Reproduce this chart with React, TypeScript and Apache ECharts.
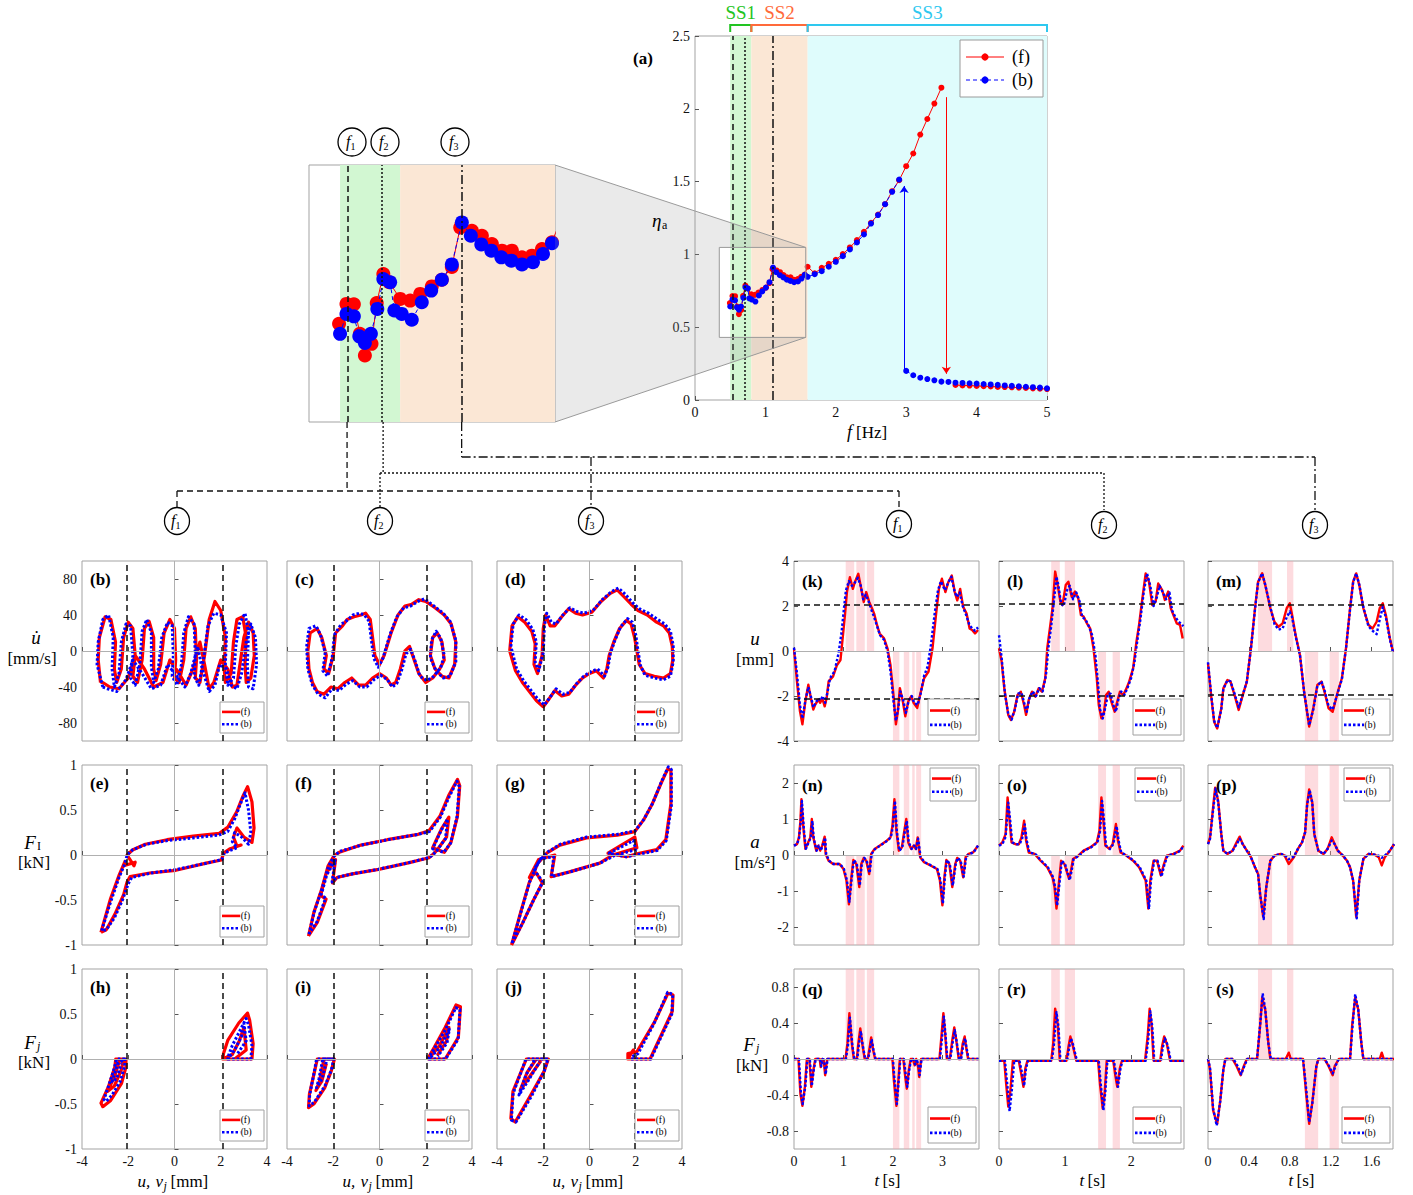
import React, { useEffect, useRef } from "react";
import * as echarts from "echarts";

const FONT = "Liberation Serif";
const RED = "#ff0000";
const BLUE = "#0000ff";

// ================= (a) amplitude ratio vs frequency =================
const etaFwdRise = [[0.495,0.666],[0.532,0.714],[0.569,0.713],[0.599,0.642],[0.624,0.59],[0.657,0.618],[0.683,0.716],[0.716,0.786],[0.746,0.766],[0.8,0.726],[0.85,0.722],[0.9,0.738],[0.958,0.756],[1.008,0.772],[1.058,0.803],[1.1,0.898],[1.158,0.89],[1.208,0.878],[1.258,0.858],[1.308,0.842],[1.358,0.842],[1.408,0.826],[1.458,0.83],[1.508,0.846],[1.558,0.862],[1.6,0.915],[1.7,0.87],[1.8,0.908],[1.9,0.935],[2.0,0.963],[2.1,1.002],[2.2,1.048],[2.3,1.098],[2.4,1.155],[2.5,1.217],[2.6,1.274],[2.7,1.345],[2.8,1.434],[2.9,1.51],[3.0,1.606],[3.1,1.693],[3.2,1.823],[3.3,1.93],[3.4,2.036],[3.5,2.145]];
const etaFwdLow = [[3.7,0.103],[3.8,0.1],[3.9,0.099],[4.0,0.097],[4.1,0.095],[4.2,0.093],[4.3,0.09],[4.4,0.089],[4.5,0.087],[4.6,0.085],[4.7,0.083],[4.8,0.08],[4.9,0.078],[5.0,0.075]];
const etaBwdHigh = [[0.5,0.642],[0.532,0.69],[0.569,0.684],[0.596,0.636],[0.624,0.62],[0.654,0.642],[0.686,0.702],[0.716,0.774],[0.75,0.766],[0.771,0.698],[0.808,0.69],[0.858,0.676],[0.908,0.718],[0.955,0.746],[1.008,0.772],[1.058,0.809],[1.108,0.91],[1.153,0.878],[1.205,0.857],[1.255,0.842],[1.305,0.826],[1.355,0.818],[1.408,0.809],[1.463,0.814],[1.513,0.834],[1.558,0.86],[1.6,0.846],[1.7,0.864],[1.8,0.885],[1.9,0.915],[2.0,0.949],[2.1,0.988],[2.2,1.034],[2.3,1.082],[2.4,1.137],[2.5,1.212],[2.6,1.27],[2.7,1.345],[2.8,1.43],[2.9,1.514]];
const etaBwdLow = [[3.0,0.2],[3.1,0.17],[3.2,0.153],[3.3,0.144],[3.4,0.135],[3.5,0.126],[3.6,0.124],[3.7,0.119],[3.8,0.117],[3.9,0.115],[4.0,0.113],[4.1,0.11],[4.2,0.107],[4.3,0.104],[4.4,0.1],[4.5,0.097],[4.6,0.094],[4.7,0.091],[4.8,0.088],[4.9,0.085],[5.0,0.08]];
const stageBands = [[0.5, 0.8], [0.8, 1.6], [1.6, 5]];
const stageNames = ["SS1", "SS2", "SS3"];
const stageFill = ["#d2f7d2", "#fbe7d5", "#dffcfc"];
const stageInk = ["#22c422", "#ff6a3a", "#2ec8ef"];
const selFreqs = [0.535, 0.715, 1.107];
const jumpUp = [[2.97, 0.2], [2.97, 1.47]];
const jumpDown = [[3.57, 2.08], [3.57, 0.18]];
const aTicksX = [0, 1, 2, 3, 4, 5];
const aTicksY = [0, 0.5, 1, 1.5, 2, 2.5];
const insetX = [0.345, 1.573];
const insetY = [0.43, 1.048];

// ================= phase plots (b)-(j) =================
const phB_f = [[-3.2,-35],[-3.3,-10],[-3.25,15],[-3.0,38],[-2.75,35],[-2.55,10],[-2.6,-20],[-2.5,-35],[-2.3,-20],[-2.2,15],[-2.0,32],[-1.8,25],[-1.7,-5],[-1.8,-28],[-1.6,-35],[-1.4,-10],[-1.3,25],[-1.1,33],[-0.9,15],[-0.9,-20],[-0.8,-33],[-0.6,-15],[-0.45,20],[-0.2,35],[0.0,25],[0.05,-10],[0.0,-30],[0.2,-35],[0.4,-10],[0.5,25],[0.7,38],[0.9,25],[0.95,-10],[0.9,-30],[1.1,-35],[1.3,-5],[1.5,35],[1.75,55],[2.0,45],[2.2,15],[2.15,-20],[2.2,-35],[2.45,-25],[2.55,10],[2.7,35],[2.95,38],[3.1,15],[3.05,-15],[3.1,-35],[3.3,-30],[3.45,-5],[3.4,20],[3.2,32],[3.0,15],[2.8,-20],[2.7,-38],[2.5,-40],[2.3,-20],[2.0,-10],[1.7,-35],[1.5,-42],[1.3,-15],[1.1,10],[0.8,-20],[0.5,-38],[0.2,-25],[-0.2,-10],[-0.5,-35],[-0.9,-40],[-1.3,-20],[-1.7,-5],[-2.0,-30],[-2.4,-42],[-2.8,-40],[-3.1,-35],[-3.2,-35]];
const phB_b = [[-3.1,-40],[-3.35,-15],[-3.3,10],[-3.1,35],[-2.85,40],[-2.65,15],[-2.7,-20],[-2.6,-40],[-2.4,-25],[-2.3,10],[-2.1,30],[-1.9,28],[-1.8,-5],[-1.9,-30],[-1.7,-38],[-1.5,-15],[-1.4,22],[-1.2,35],[-1.0,20],[-1.0,-18],[-0.9,-35],[-0.7,-20],[-0.55,15],[-0.3,32],[-0.1,28],[-0.05,-5],[-0.1,-28],[0.1,-38],[0.3,-15],[0.4,20],[0.6,38],[0.85,30],[0.9,-5],[0.85,-28],[1.05,-38],[1.25,-10],[1.45,28],[1.7,42],[2.0,40],[2.25,20],[2.2,-15],[2.3,-38],[2.55,-30],[2.65,5],[2.8,30],[3.05,42],[3.2,20],[3.15,-15],[3.2,-40],[3.4,-42],[3.55,-15],[3.5,15],[3.3,30],[3.1,10],[2.9,-25],[2.7,-42],[2.45,-38],[2.25,-20],[1.95,-15],[1.75,-38],[1.5,-45],[1.2,-20],[1.0,5],[0.7,-25],[0.45,-40],[0.1,-28],[-0.3,-15],[-0.6,-38],[-1.0,-42],[-1.4,-25],[-1.8,-10],[-2.1,-32],[-2.5,-45],[-2.9,-42],[-3.1,-40]];
const phC_f = [[-3.1,0],[-3.0,20],[-2.7,25],[-2.5,15],[-2.3,-5],[-2.4,-20],[-2.2,-25],[-2.0,-5],[-1.9,20],[-1.6,28],[-1.4,35],[-1.1,38],[-0.8,40],[-0.6,42],[-0.4,35],[-0.3,15],[-0.2,-5],[0.0,-15],[0.2,-5],[0.5,20],[0.8,40],[1.1,50],[1.4,52],[1.7,57],[2.0,55],[2.4,48],[2.8,40],[3.1,30],[3.3,10],[3.25,-15],[3.0,-30],[2.7,-28],[2.4,-20],[2.2,-5],[2.3,15],[2.5,20],[2.7,10],[2.8,-10],[2.6,-20],[2.3,-30],[2.0,-35],[1.7,-25],[1.5,-10],[1.3,5],[1.1,0],[0.9,-20],[0.7,-35],[0.5,-38],[0.3,-30],[0.0,-25],[-0.3,-30],[-0.6,-38],[-0.9,-38],[-1.2,-30],[-1.5,-35],[-1.8,-42],[-2.1,-40],[-2.4,-48],[-2.7,-45],[-2.9,-35],[-3.05,-20],[-3.1,0]];
const phC_b = [[-3.15,5],[-3.05,25],[-2.75,28],[-2.55,18],[-2.35,-2],[-2.45,-22],[-2.25,-28],[-2.05,-8],[-1.95,18],[-1.65,30],[-1.45,33],[-1.15,40],[-0.85,42],[-0.65,40],[-0.45,33],[-0.35,12],[-0.25,-8],[-0.05,-18],[0.15,-8],[0.45,18],[0.75,38],[1.05,48],[1.35,50],[1.65,55],[1.95,58],[2.35,50],[2.75,42],[3.05,33],[3.3,12],[3.3,-12],[3.05,-28],[2.75,-30],[2.45,-22],[2.2,-8],[2.25,12],[2.45,22],[2.65,14],[2.8,-5],[2.65,-18],[2.35,-28],[2.05,-33],[1.75,-28],[1.55,-12],[1.35,2],[1.15,-3],[0.95,-22],[0.75,-36],[0.55,-40],[0.35,-32],[0.05,-27],[-0.25,-32],[-0.55,-40],[-0.85,-40],[-1.15,-33],[-1.45,-37],[-1.75,-44],[-2.05,-42],[-2.35,-52],[-2.65,-48],[-2.9,-38],[-3.1,-20],[-3.15,5]];
const phD_f = [[-3.45,0],[-3.35,28],[-3.1,38],[-2.8,32],[-2.5,22],[-2.35,8],[-2.4,-15],[-2.25,-25],[-2.05,-5],[-2.0,25],[-1.9,40],[-1.7,28],[-1.5,28],[-1.2,38],[-0.9,47],[-0.6,42],[-0.3,40],[0.1,43],[0.5,55],[0.9,64],[1.2,68],[1.5,60],[1.8,52],[2.1,45],[2.5,40],[2.9,32],[3.2,28],[3.45,20],[3.58,5],[3.6,-10],[3.5,-25],[3.2,-30],[2.8,-28],[2.4,-25],[2.15,-15],[2.05,0],[1.95,15],[1.8,30],[1.6,34],[1.3,25],[1.05,10],[0.85,-5],[0.75,-20],[0.6,-30],[0.3,-22],[0.0,-25],[-0.3,-30],[-0.6,-38],[-0.9,-48],[-1.2,-50],[-1.5,-44],[-1.8,-55],[-2.0,-62],[-2.3,-55],[-2.6,-45],[-2.9,-35],[-3.2,-22],[-3.45,0]];
const phD_b = [[-3.4,5],[-3.3,30],[-3.05,40],[-2.75,35],[-2.45,24],[-2.3,10],[-2.35,-12],[-2.2,-22],[-2.0,-2],[-1.95,28],[-1.85,42],[-1.65,32],[-1.45,30],[-1.15,40],[-0.85,48],[-0.55,44],[-0.25,42],[0.15,45],[0.55,57],[0.95,66],[1.25,70],[1.55,63],[1.85,54],[2.15,47],[2.55,42],[2.95,35],[3.25,30],[3.5,22],[3.62,6],[3.62,-12],[3.5,-28],[3.2,-32],[2.8,-30],[2.4,-27],[2.2,-16],[2.1,0],[2.0,18],[1.85,32],[1.65,36],[1.35,27],[1.1,12],[0.9,-3],[0.8,-18],[0.65,-28],[0.35,-20],[0.05,-23],[-0.25,-28],[-0.55,-36],[-0.85,-46],[-1.15,-48],[-1.45,-42],[-1.75,-53],[-1.95,-60],[-2.25,-53],[-2.55,-43],[-2.85,-33],[-3.15,-20],[-3.4,5]];
const phE_f = [[-3.18,-0.86],[-2.76,-0.48],[-2.39,-0.22],[-2.14,-0.07],[-2.2,-0.12],[-1.7,-0.08],[-1.75,-0.12],[-2.05,0.0],[-1.82,0.055],[-1.26,0.12],[-0.32,0.17],[0.81,0.21],[1.94,0.24],[2.31,0.31],[2.69,0.48],[2.97,0.66],[3.16,0.76],[3.35,0.59],[3.44,0.3],[3.35,0.14],[3.0,0.2],[2.7,0.3],[2.55,0.2],[2.7,0.1],[2.88,0.11],[2.41,0.07],[2.12,0.02],[2.03,-0.055],[1.37,-0.09],[0.06,-0.17],[-1.07,-0.2],[-1.92,-0.24],[-2.05,-0.3],[-2.2,-0.44],[-2.58,-0.66],[-2.95,-0.83],[-3.18,-0.86]];
const phE_b = [[-3.15,-0.84],[-2.8,-0.55],[-2.4,-0.25],[-2.15,-0.1],[-2.05,0.0],[-1.8,0.06],[-1.2,0.12],[-0.3,0.16],[0.8,0.19],[1.9,0.22],[2.3,0.26],[2.6,0.4],[2.9,0.6],[3.05,0.69],[3.2,0.5],[3.3,0.25],[3.2,0.12],[2.9,0.2],[2.6,0.25],[2.5,0.15],[2.7,0.08],[2.4,0.05],[2.15,0.02],[2.05,-0.05],[1.4,-0.09],[0.1,-0.16],[-1.0,-0.2],[-1.85,-0.25],[-2.0,-0.32],[-2.25,-0.5],[-2.6,-0.7],[-2.95,-0.83],[-3.15,-0.84]];
const phF_f = [[-3.07,-0.9],[-2.84,-0.64],[-2.5,-0.38],[-2.22,-0.12],[-1.97,-0.01],[-1.74,0.03],[-0.8,0.11],[0.34,0.17],[1.67,0.23],[2.14,0.27],[2.61,0.43],[2.99,0.66],[3.37,0.84],[3.47,0.77],[3.37,0.43],[3.09,0.14],[2.8,0.03],[2.3,0.08],[2.7,0.3],[3.0,0.42],[2.9,0.2],[2.5,0.06],[2.33,0.01],[2.14,-0.03],[1.29,-0.085],[-0.04,-0.16],[-1.17,-0.21],[-1.84,-0.25],[-2.03,-0.31],[-1.9,-0.05],[-2.3,-0.2],[-2.55,-0.45],[-2.31,-0.49],[-2.69,-0.75],[-3.07,-0.9]];
const phF_b = [[-3.05,-0.88],[-2.82,-0.63],[-2.48,-0.37],[-2.2,-0.12],[-1.95,-0.01],[-1.72,0.04],[-0.78,0.11],[0.36,0.17],[1.69,0.23],[2.16,0.26],[2.63,0.42],[3.0,0.64],[3.35,0.82],[3.45,0.76],[3.35,0.42],[3.07,0.13],[2.78,0.03],[2.3,0.07],[2.68,0.28],[2.95,0.4],[2.85,0.18],[2.48,0.05],[2.3,0.0],[2.12,-0.03],[1.27,-0.085],[-0.06,-0.16],[-1.19,-0.21],[-1.86,-0.25],[-2.05,-0.3],[-1.92,-0.06],[-2.28,-0.22],[-2.52,-0.44],[-2.33,-0.48],[-2.7,-0.74],[-3.05,-0.88]];
const phG_f = [[-3.37,-1.0],[-2.99,-0.65],[-2.61,-0.31],[-2.23,-0.09],[-1.85,0.02],[-1.28,0.11],[-0.13,0.19],[1.2,0.22],[1.96,0.26],[2.34,0.39],[2.72,0.57],[3.1,0.8],[3.39,0.96],[3.52,0.94],[3.52,0.57],[3.3,0.17],[2.91,0.06],[2.15,0.02],[1.58,-0.02],[0.8,0.02],[1.96,0.2],[2.05,0.08],[1.0,0.0],[0.44,-0.09],[-0.9,-0.19],[-1.66,-0.24],[-1.5,0.0],[-2.2,-0.05],[-2.6,-0.25],[-2.3,-0.2],[-2.04,-0.31],[-2.42,-0.5],[-2.9,-0.76],[-3.37,-1.0]];
const phG_b = [[-3.35,-0.98],[-2.97,-0.64],[-2.59,-0.3],[-2.21,-0.08],[-1.83,0.03],[-1.26,0.12],[-0.11,0.2],[1.22,0.23],[1.98,0.27],[2.36,0.4],[2.74,0.58],[3.12,0.82],[3.41,0.98],[3.54,0.95],[3.54,0.55],[3.32,0.16],[2.93,0.05],[2.17,0.01],[1.6,-0.02],[0.85,0.02],[1.9,0.16],[2.0,0.06],[1.05,-0.01],[0.46,-0.09],[-0.88,-0.19],[-1.64,-0.24],[-1.55,-0.02],[-2.1,-0.04],[-2.4,-0.16],[-2.02,-0.3],[-2.4,-0.49],[-2.88,-0.75],[-3.35,-0.98]];
const phH_fL = [[-2.1,0],[-2.54,0],[-2.58,-0.09],[-2.86,-0.31],[-3.18,-0.49],[-3.1,-0.53],[-2.76,-0.46],[-2.29,-0.27],[-2.1,-0.09],[-2.1,0],[-2.35,0],[-2.6,-0.2],[-2.9,-0.36],[-2.6,-0.3],[-2.3,-0.12],[-2.2,0]];
const phH_fR = [[2.09,0],[3.35,0],[3.4,0.17],[3.25,0.43],[3.16,0.51],[2.78,0.4],[2.31,0.21],[2.12,0.06],[2.09,0],[2.5,0.05],[2.8,0.2],[3.0,0.35],[3.1,0.1],[2.6,0.0]];
const phH_bL = [[-2.15,0],[-2.5,0],[-2.6,-0.1],[-2.85,-0.3],[-3.05,-0.45],[-2.95,-0.47],[-2.7,-0.4],[-2.35,-0.25],[-2.15,-0.08],[-2.15,0],[-2.45,-0.05],[-2.7,-0.25],[-2.5,-0.22],[-2.3,-0.05]];
const phH_bR = [[2.3,0],[3.3,0],[3.35,0.15],[3.2,0.38],[3.1,0.45],[2.8,0.3],[2.5,0.15],[2.35,0.05],[2.3,0],[2.6,0.1],[2.9,0.25],[3.0,0.4],[3.1,0.2],[2.7,0.05]];
const phI_fL = [[-1.95,0],[-2.69,0],[-2.8,-0.13],[-3.03,-0.39],[-3.07,-0.54],[-2.84,-0.5],[-2.37,-0.32],[-2.08,-0.13],[-1.95,0],[-2.4,0],[-2.6,-0.25],[-2.75,-0.35],[-2.5,-0.25],[-2.3,-0.05]];
const phI_fR = [[2.12,0],[2.84,0],[3.41,0.24],[3.5,0.58],[3.31,0.6],[2.84,0.35],[2.37,0.13],[2.12,0.02],[2.12,0],[2.6,0.15],[3.0,0.35],[2.9,0.2],[2.5,0.04]];
const phI_bL = [[-1.98,0],[-2.72,0],[-2.82,-0.14],[-3.02,-0.4],[-3.04,-0.52],[-2.82,-0.48],[-2.36,-0.3],[-2.08,-0.12],[-1.98,0],[-2.45,0],[-2.62,-0.22],[-2.72,-0.32],[-2.48,-0.22],[-2.3,-0.03]];
const phI_bR = [[2.14,0],[2.86,0],[3.4,0.22],[3.48,0.55],[3.3,0.57],[2.86,0.33],[2.38,0.12],[2.14,0.02],[2.14,0],[2.62,0.13],[3.02,0.33],[2.92,0.18],[2.52,0.03]];
const phJ_fL = [[-1.78,0],[-2.73,0],[-3.31,-0.36],[-3.4,-0.66],[-3.21,-0.7],[-2.54,-0.4],[-1.97,-0.14],[-1.78,0],[-2.3,0],[-2.7,-0.15],[-3.0,-0.35],[-2.6,-0.2],[-2.1,-0.02]];
const phJ_fR = [[1.66,0],[2.62,0],[3.58,0.53],[3.61,0.71],[3.39,0.73],[2.83,0.42],[2.05,0.08],[1.66,0.06],[1.66,0],[1.9,0.1],[1.7,0.03]];
const phJ_bL = [[-1.8,0],[-2.75,0],[-3.3,-0.38],[-3.38,-0.68],[-3.18,-0.7],[-2.5,-0.41],[-1.95,-0.13],[-1.8,0],[-2.35,0],[-2.75,-0.18],[-3.05,-0.4],[-2.65,-0.24],[-2.15,-0.03]];
const phJ_bR = [[1.8,0],[2.65,0],[3.56,0.5],[3.6,0.72],[3.38,0.74],[2.8,0.4],[2.1,0.06],[1.8,0.02]];

// ================= time histories (k)-(s) =================
const uF1_f = [[0,0.1],[0.06,-1.35],[0.12,-2.67],[0.17,-3.26],[0.23,-2.23],[0.29,-1.5],[0.34,-2.09],[0.39,-2.6],[0.43,-2.38],[0.49,-2.16],[0.53,-2.3],[0.57,-2.09],[0.62,-2.46],[0.66,-2.09],[0.7,-1.35],[0.79,-1.13],[0.87,-0.62],[0.94,-0.4],[0.99,0.7],[1.03,1.59],[1.07,2.62],[1.13,3.28],[1.19,2.76],[1.23,3.06],[1.3,3.43],[1.36,2.76],[1.41,2.18],[1.46,2.62],[1.52,2.18],[1.58,1.88],[1.62,1.66],[1.67,1.22],[1.73,0.78],[1.82,0.56],[1.89,0.12],[1.95,-0.62],[2.01,-1.94],[2.06,-3.26],[2.1,-2.68],[2.14,-1.65],[2.2,-2.24],[2.25,-2.9],[2.31,-2.24],[2.37,-2.01],[2.42,-2.31],[2.49,-2.53],[2.55,-1.94],[2.63,-1.21],[2.72,-0.91],[2.8,0.12],[2.87,1.59],[2.93,2.76],[2.99,3.21],[3.06,2.62],[3.12,3.06],[3.19,3.35],[3.25,2.62],[3.3,2.25],[3.36,2.76],[3.42,1.96],[3.49,1.66],[3.55,1.0],[3.6,0.93],[3.66,0.78],[3.72,0.93]];
const uF1_b = [[0,0.15],[0.06,-1.0],[0.12,-2.4],[0.17,-3.0],[0.23,-2.2],[0.29,-1.6],[0.34,-2.0],[0.39,-2.5],[0.44,-2.3],[0.49,-2.1],[0.54,-2.2],[0.58,-2.0],[0.63,-2.3],[0.68,-1.8],[0.73,-1.2],[0.82,-0.9],[0.9,-0.1],[0.96,0.8],[1.01,1.9],[1.05,2.7],[1.11,3.1],[1.17,2.9],[1.22,3.0],[1.29,3.25],[1.35,2.9],[1.4,2.3],[1.45,2.5],[1.51,2.2],[1.57,1.8],[1.62,1.5],[1.68,1.1],[1.74,0.7],[1.82,0.5],[1.89,0.0],[1.95,-0.9],[2.01,-2.2],[2.06,-3.1],[2.11,-2.5],[2.15,-1.8],[2.21,-2.2],[2.26,-2.75],[2.32,-2.2],[2.38,-2.0],[2.43,-2.3],[2.5,-2.4],[2.56,-1.9],[2.63,-1.1],[2.7,-0.7],[2.77,0.3],[2.84,1.6],[2.91,2.7],[2.97,3.1],[3.05,2.7],[3.11,3.0],[3.18,3.3],[3.24,2.7],[3.29,2.4],[3.35,2.6],[3.41,2.0],[3.48,1.6],[3.54,1.2],[3.6,1.0],[3.66,0.9],[3.72,1.05]];
const uF2_f = [[0,0.12],[0.04,-0.47],[0.08,-1.66],[0.14,-2.84],[0.18,-3.07],[0.23,-2.7],[0.28,-1.96],[0.33,-1.81],[0.38,-2.4],[0.41,-2.84],[0.45,-2.18],[0.5,-1.81],[0.55,-2.03],[0.6,-1.66],[0.65,-1.81],[0.7,-1.21],[0.73,0.12],[0.77,1.0],[0.81,1.9],[0.85,3.53],[0.88,3.08],[0.93,2.19],[0.96,2.04],[1.01,2.93],[1.05,3.08],[1.1,2.41],[1.15,2.64],[1.2,2.34],[1.24,1.6],[1.28,1.53],[1.33,1.23],[1.38,1.0],[1.43,0.12],[1.48,-1.21],[1.51,-2.4],[1.55,-2.99],[1.59,-2.7],[1.62,-1.96],[1.66,-1.81],[1.7,-2.25],[1.75,-2.7],[1.79,-2.25],[1.83,-1.81],[1.88,-1.96],[1.93,-1.66],[1.97,-1.36],[2.03,-0.77],[2.08,0.41],[2.12,1.16],[2.17,2.34],[2.22,3.45],[2.27,3.08],[2.32,2.04],[2.37,2.19],[2.41,3.0],[2.47,2.71],[2.51,2.27],[2.56,2.64],[2.6,1.9],[2.64,1.6],[2.69,1.23],[2.74,1.16],[2.78,0.56]];
const uF2_b = [[0,0.7],[0.04,-0.3],[0.09,-1.9],[0.14,-2.8],[0.19,-3.05],[0.24,-2.6],[0.29,-1.9],[0.34,-1.85],[0.39,-2.4],[0.42,-2.7],[0.46,-2.1],[0.51,-1.8],[0.56,-2.0],[0.61,-1.65],[0.66,-1.8],[0.71,-1.1],[0.75,0.2],[0.79,1.1],[0.83,2.2],[0.87,3.3],[0.9,2.9],[0.94,2.1],[0.98,2.0],[1.03,2.7],[1.07,2.9],[1.12,2.3],[1.17,2.6],[1.22,2.2],[1.26,1.5],[1.31,1.4],[1.36,1.1],[1.41,0.7],[1.46,-0.2],[1.5,-1.5],[1.53,-2.6],[1.57,-3.0],[1.61,-2.5],[1.65,-1.9],[1.69,-1.9],[1.73,-2.4],[1.77,-2.7],[1.81,-2.1],[1.85,-1.8],[1.9,-1.95],[1.95,-1.6],[2.0,-1.2],[2.05,-0.5],[2.1,0.6],[2.14,1.4],[2.19,2.6],[2.24,3.45],[2.29,2.9],[2.34,2.0],[2.39,2.4],[2.43,2.9],[2.48,2.6],[2.53,2.3],[2.58,2.6],[2.62,1.8],[2.67,1.5],[2.72,1.3],[2.76,1.2],[2.79,1.1]];
const uF3_f = [[0,-0.55],[0.03,-1.96],[0.06,-3.14],[0.09,-3.44],[0.13,-2.55],[0.15,-1.66],[0.19,-1.29],[0.22,-1.36],[0.26,-1.96],[0.3,-2.62],[0.34,-1.96],[0.38,-1.36],[0.42,0.12],[0.46,1.9],[0.49,3.08],[0.53,3.45],[0.56,2.93],[0.61,1.9],[0.65,1.3],[0.69,1.08],[0.73,1.23],[0.77,1.9],[0.8,2.12],[0.82,1.67],[0.86,0.64],[0.9,-0.18],[0.94,-1.81],[0.99,-3.36],[1.03,-2.55],[1.07,-1.51],[1.11,-1.36],[1.14,-1.81],[1.18,-2.55],[1.22,-2.7],[1.27,-1.81],[1.31,-1.21],[1.35,0.12],[1.39,1.9],[1.42,3.08],[1.45,3.45],[1.48,2.93],[1.52,1.9],[1.57,1.16],[1.61,1.0],[1.65,1.3],[1.68,1.9],[1.71,2.12],[1.74,1.6],[1.78,0.56],[1.81,-0.03]];
const uF3_b = [[0,-0.5],[0.03,-1.9],[0.06,-3.1],[0.09,-3.42],[0.13,-2.6],[0.15,-1.7],[0.19,-1.3],[0.22,-1.35],[0.26,-1.9],[0.3,-2.5],[0.34,-1.95],[0.38,-1.35],[0.42,0.1],[0.46,1.85],[0.49,3.05],[0.53,3.45],[0.56,2.95],[0.61,1.95],[0.65,1.2],[0.69,0.95],[0.73,1.0],[0.77,1.5],[0.8,1.75],[0.82,1.55],[0.86,0.6],[0.9,-0.2],[0.94,-1.8],[0.99,-3.3],[1.03,-2.6],[1.07,-1.55],[1.11,-1.35],[1.14,-1.75],[1.18,-2.45],[1.22,-2.6],[1.27,-1.85],[1.31,-1.25],[1.35,0.1],[1.39,1.85],[1.42,3.05],[1.45,3.45],[1.48,2.95],[1.52,1.95],[1.57,1.1],[1.61,0.9],[1.65,0.75],[1.68,1.4],[1.71,1.95],[1.74,1.5],[1.78,0.5],[1.81,-0.05]];
const aF1_f = [[0,0.26],[0.06,0.3],[0.1,0.49],[0.13,0.95],[0.15,1.55],[0.19,0.76],[0.23,0.17],[0.27,0.3],[0.33,0.49],[0.36,1.0],[0.39,0.49],[0.45,0.12],[0.49,0.26],[0.53,0.12],[0.57,0.26],[0.62,0.51],[0.64,0.03],[0.7,-0.16],[0.79,-0.25],[0.92,-0.25],[1.0,-0.39],[1.06,-0.71],[1.11,-1.37],[1.16,-0.62],[1.2,-0.14],[1.26,-0.25],[1.32,-0.89],[1.36,-0.25],[1.41,-0.08],[1.46,-0.16],[1.52,-0.53],[1.56,0.03],[1.63,0.17],[1.73,0.26],[1.86,0.38],[1.95,0.49],[1.99,0.81],[2.03,1.55],[2.07,0.67],[2.12,0.12],[2.18,0.21],[2.23,0.67],[2.27,1.0],[2.31,0.35],[2.37,0.17],[2.42,0.26],[2.46,0.17],[2.5,0.49],[2.55,-0.06],[2.63,-0.2],[2.76,-0.29],[2.89,-0.39],[2.95,-0.71],[3.0,-1.4],[3.04,-0.62],[3.08,-0.14],[3.14,-0.25],[3.2,-0.89],[3.26,-0.25],[3.3,-0.08],[3.36,-0.16],[3.42,-0.62],[3.47,-0.06],[3.53,0.03],[3.62,0.07],[3.72,0.26]];
const aF1_b = [[0,0.26],[0.06,0.3],[0.1,0.45],[0.135,0.9],[0.16,1.5],[0.2,0.7],[0.24,0.17],[0.28,0.3],[0.34,0.49],[0.37,0.95],[0.4,0.45],[0.46,0.12],[0.5,0.26],[0.54,0.12],[0.58,0.26],[0.63,0.48],[0.65,0.03],[0.71,-0.16],[0.8,-0.25],[0.93,-0.25],[1.01,-0.39],[1.07,-0.7],[1.12,-1.3],[1.17,-0.6],[1.21,-0.14],[1.27,-0.25],[1.33,-0.85],[1.37,-0.25],[1.42,-0.08],[1.47,-0.16],[1.53,-0.5],[1.57,0.03],[1.64,0.17],[1.74,0.26],[1.87,0.38],[1.96,0.49],[2.0,0.8],[2.04,1.5],[2.08,0.65],[2.13,0.12],[2.19,0.21],[2.24,0.65],[2.28,0.95],[2.32,0.35],[2.38,0.17],[2.43,0.26],[2.47,0.17],[2.51,0.45],[2.56,-0.06],[2.64,-0.2],[2.77,-0.29],[2.9,-0.39],[2.96,-0.7],[3.01,-1.35],[3.05,-0.6],[3.09,-0.14],[3.15,-0.25],[3.21,-0.85],[3.27,-0.25],[3.31,-0.08],[3.37,-0.16],[3.43,-0.6],[3.48,-0.06],[3.54,0.03],[3.63,0.07],[3.72,0.26]];
const aF2_f = [[0,0.26],[0.05,0.35],[0.1,0.58],[0.13,1.6],[0.16,0.95],[0.19,0.35],[0.25,0.3],[0.3,0.3],[0.34,0.49],[0.38,0.95],[0.41,0.4],[0.45,0.07],[0.54,0.03],[0.63,-0.16],[0.73,-0.34],[0.81,-0.62],[0.84,-0.89],[0.87,-1.49],[0.91,-0.71],[0.94,-0.16],[0.99,-0.25],[1.06,-0.66],[1.09,-0.43],[1.12,-0.11],[1.2,-0.02],[1.28,0.12],[1.38,0.21],[1.48,0.35],[1.52,0.67],[1.55,1.6],[1.58,0.95],[1.61,0.26],[1.67,0.17],[1.72,0.3],[1.77,0.86],[1.8,0.4],[1.84,0.07],[1.93,-0.02],[2.03,-0.16],[2.12,-0.34],[2.22,-0.71],[2.26,-1.49],[2.29,-0.71],[2.34,-0.16],[2.39,-0.16],[2.45,-0.57],[2.49,-0.29],[2.54,-0.02],[2.64,0.03],[2.74,0.12],[2.79,0.26]];
const aF2_b = [[0,0.26],[0.05,0.3],[0.1,0.5],[0.14,1.45],[0.17,0.95],[0.2,0.35],[0.26,0.3],[0.31,0.3],[0.35,0.45],[0.39,0.85],[0.42,0.4],[0.46,0.07],[0.55,0.03],[0.64,-0.16],[0.74,-0.34],[0.82,-0.62],[0.85,-0.89],[0.88,-1.4],[0.92,-0.71],[0.95,-0.16],[1.0,-0.25],[1.07,-0.7],[1.1,-0.43],[1.13,-0.11],[1.21,-0.02],[1.29,0.12],[1.39,0.21],[1.49,0.35],[1.53,0.67],[1.56,1.5],[1.59,0.95],[1.62,0.26],[1.68,0.17],[1.73,0.3],[1.78,0.8],[1.81,0.4],[1.85,0.07],[1.94,-0.02],[2.04,-0.16],[2.13,-0.34],[2.23,-0.71],[2.27,-1.5],[2.3,-0.71],[2.35,-0.16],[2.4,-0.16],[2.46,-0.6],[2.5,-0.29],[2.55,-0.02],[2.65,0.03],[2.75,0.12],[2.79,0.26]];
const aF3_f = [[0,0.3],[0.02,0.49],[0.05,1.32],[0.07,1.87],[0.1,1.5],[0.13,0.58],[0.15,0.12],[0.19,0.03],[0.24,0.12],[0.28,0.35],[0.31,0.51],[0.34,0.3],[0.38,0.12],[0.42,-0.06],[0.46,-0.34],[0.49,-0.53],[0.51,-1.08],[0.54,-1.72],[0.57,-0.89],[0.61,-0.16],[0.65,-0.02],[0.71,0.03],[0.75,-0.02],[0.79,-0.25],[0.84,-0.06],[0.88,0.17],[0.92,0.35],[0.95,0.63],[0.97,1.41],[0.99,1.82],[1.02,1.46],[1.04,0.58],[1.08,0.12],[1.13,0.03],[1.17,0.17],[1.21,0.49],[1.24,0.3],[1.27,0.12],[1.32,-0.02],[1.36,-0.16],[1.39,-0.34],[1.42,-0.71],[1.45,-1.72],[1.48,-0.71],[1.52,-0.11],[1.57,0.03],[1.63,0.01],[1.67,-0.06],[1.7,-0.29],[1.73,-0.06],[1.78,0.12],[1.82,0.3]];
const aF3_b = [[0,0.3],[0.02,0.45],[0.05,1.25],[0.075,1.85],[0.1,1.45],[0.13,0.58],[0.15,0.12],[0.19,0.03],[0.24,0.12],[0.28,0.3],[0.31,0.45],[0.34,0.3],[0.38,0.12],[0.42,-0.06],[0.46,-0.34],[0.49,-0.53],[0.51,-1.1],[0.545,-1.78],[0.57,-0.9],[0.61,-0.16],[0.65,-0.02],[0.71,0.03],[0.75,0.0],[0.79,-0.12],[0.84,-0.04],[0.88,0.17],[0.92,0.35],[0.95,0.63],[0.97,1.4],[0.995,1.8],[1.02,1.46],[1.04,0.58],[1.08,0.12],[1.13,0.03],[1.17,0.17],[1.21,0.4],[1.24,0.3],[1.27,0.12],[1.32,-0.02],[1.36,-0.16],[1.39,-0.34],[1.42,-0.71],[1.455,-1.76],[1.48,-0.71],[1.52,-0.11],[1.57,0.03],[1.63,0.01],[1.67,-0.02],[1.7,-0.08],[1.73,-0.02],[1.78,0.12],[1.82,0.3]];
const fjF1_f = [[0,0],[0.09,0],[0.13,-0.39],[0.17,-0.52],[0.22,-0.31],[0.26,0],[0.31,0],[0.35,-0.31],[0.39,-0.13],[0.43,0],[0.52,0],[0.54,-0.09],[0.57,0],[0.6,-0.01],[0.63,-0.18],[0.67,0],[1.04,0],[1.08,0.17],[1.12,0.51],[1.17,0.17],[1.21,0],[1.27,0],[1.3,0.17],[1.34,0.34],[1.38,0.17],[1.43,0],[1.49,0],[1.53,0.13],[1.56,0.24],[1.6,0.1],[1.64,0],[1.99,0],[2.02,-0.24],[2.07,-0.52],[2.11,-0.24],[2.14,0],[2.21,0],[2.25,-0.2],[2.28,-0.33],[2.32,-0.13],[2.36,0],[2.4,0],[2.44,-0.07],[2.47,0],[2.51,-0.09],[2.53,-0.2],[2.57,0],[2.94,0],[2.98,0.25],[3.02,0.51],[3.06,0.25],[3.09,0],[3.15,0],[3.2,0.21],[3.24,0.35],[3.28,0.21],[3.33,0],[3.37,0],[3.41,0.17],[3.45,0.25],[3.48,0.13],[3.52,0],[3.73,0]];
const fjF1_b = [[0,0],[0.1,0],[0.14,-0.38],[0.175,-0.5],[0.23,-0.3],[0.27,0],[0.32,0],[0.36,-0.3],[0.4,-0.12],[0.44,0],[0.53,0],[0.55,-0.08],[0.58,0],[0.61,-0.01],[0.64,-0.17],[0.68,0],[1.05,0],[1.09,0.15],[1.13,0.46],[1.18,0.15],[1.22,0],[1.28,0],[1.31,0.15],[1.35,0.31],[1.39,0.15],[1.44,0],[1.5,0],[1.54,0.12],[1.57,0.22],[1.61,0.09],[1.65,0],[2.0,0],[2.03,-0.22],[2.08,-0.5],[2.12,-0.22],[2.15,0],[2.22,0],[2.26,-0.18],[2.29,-0.31],[2.33,-0.12],[2.37,0],[2.41,0],[2.45,-0.06],[2.48,0],[2.52,-0.08],[2.54,-0.18],[2.58,0],[2.95,0],[2.99,0.22],[3.03,0.47],[3.07,0.22],[3.1,0],[3.16,0],[3.21,0.19],[3.25,0.32],[3.29,0.19],[3.34,0],[3.38,0],[3.42,0.15],[3.46,0.23],[3.49,0.12],[3.53,0],[3.73,0]];
const fjF2_f = [[0,-0.02],[0.08,-0.02],[0.11,-0.29],[0.14,-0.53],[0.17,-0.37],[0.21,-0.02],[0.3,-0.02],[0.34,-0.18],[0.37,-0.31],[0.4,-0.1],[0.43,-0.02],[0.79,-0.02],[0.82,0.17],[0.85,0.56],[0.89,0.38],[0.92,-0.02],[1.02,-0.02],[1.05,0.13],[1.08,0.25],[1.11,0.17],[1.17,-0.02],[1.5,-0.02],[1.53,-0.29],[1.57,-0.55],[1.6,-0.37],[1.63,-0.02],[1.73,-0.02],[1.76,-0.18],[1.79,-0.31],[1.83,-0.1],[1.86,-0.02],[2.21,-0.02],[2.25,0.25],[2.28,0.56],[2.31,0.38],[2.34,-0.02],[2.44,-0.02],[2.47,0.15],[2.5,0.25],[2.54,0.17],[2.59,-0.02],[2.8,-0.02]];
const fjF2_b = [[0,-0.02],[0.09,-0.02],[0.13,-0.32],[0.16,-0.58],[0.19,-0.38],[0.23,-0.02],[0.31,-0.02],[0.35,-0.16],[0.38,-0.3],[0.41,-0.1],[0.44,-0.02],[0.8,-0.02],[0.83,0.15],[0.87,0.52],[0.9,0.36],[0.93,-0.02],[1.03,-0.02],[1.06,0.12],[1.09,0.23],[1.12,0.16],[1.18,-0.02],[1.51,-0.02],[1.54,-0.28],[1.58,-0.57],[1.61,-0.36],[1.64,-0.02],[1.74,-0.02],[1.77,-0.17],[1.8,-0.31],[1.84,-0.1],[1.87,-0.02],[2.22,-0.02],[2.26,0.23],[2.29,0.53],[2.32,0.36],[2.35,-0.02],[2.45,-0.02],[2.48,0.13],[2.51,0.23],[2.55,0.16],[2.6,-0.02],[2.8,-0.02]];
const fjF3_f = [[0,0],[0.02,-0.12],[0.05,-0.57],[0.09,-0.72],[0.12,-0.46],[0.15,-0.12],[0.17,0],[0.24,0],[0.28,-0.08],[0.32,-0.18],[0.35,-0.08],[0.38,0],[0.48,0],[0.51,0.37],[0.53,0.68],[0.56,0.55],[0.59,0.18],[0.61,0],[0.76,0],[0.79,0.07],[0.81,0],[0.93,0],[0.96,-0.38],[0.99,-0.72],[1.02,-0.49],[1.06,-0.08],[1.08,0],[1.14,0],[1.18,-0.08],[1.22,-0.18],[1.24,-0.08],[1.28,0],[1.39,0],[1.41,0.37],[1.44,0.68],[1.47,0.55],[1.5,0.18],[1.52,0],[1.68,0],[1.7,0.07],[1.72,0],[1.82,0]];
const fjF3_b = [[0,0],[0.02,-0.1],[0.05,-0.55],[0.085,-0.74],[0.12,-0.47],[0.15,-0.12],[0.17,0],[0.25,0],[0.29,-0.08],[0.325,-0.17],[0.355,-0.08],[0.385,0],[0.48,0],[0.51,0.38],[0.535,0.73],[0.56,0.55],[0.59,0.18],[0.615,0],[0.93,0],[0.965,-0.38],[0.99,-0.7],[1.02,-0.5],[1.06,-0.08],[1.08,0],[1.14,0],[1.18,-0.07],[1.22,-0.16],[1.25,-0.07],[1.28,0],[1.39,0],[1.415,0.38],[1.44,0.72],[1.47,0.55],[1.5,0.18],[1.52,0],[1.82,0]];

// contact intervals (shaded)
const bandsF1A = [[1.045,1.217],[1.26,1.43],[1.474,1.62]];
const bandsF1B = [[2.0,2.13],[2.22,2.33],[2.39,2.44],[2.47,2.57]];
const bandsF2A = [[0.79,0.92],[0.995,1.15]];
const bandsF2B = [[1.5,1.62],[1.72,1.83]];
const bandsF3A = [[0.489,0.627],[0.773,0.835]];
const bandsF3B = [[0.948,1.078],[1.19,1.28]];

// gap thresholds
const gapPhase = [[-2.08, 2.08], [-2.0, 2.06], [-1.97, 1.97]];
const gapTime = [[2.07, -2.1], [2.1, -1.97], [2.05, -1.93]];

// axes ranges / ticks
const phaseX = { min: -4, max: 4, ticks: [-4, -2, 0, 2, 4] };
const phaseY = [
  { min: -100, max: 100, ticks: [-80, -40, 0, 40, 80] },
  { min: -1, max: 1, ticks: [-1, -0.5, 0, 0.5, 1] },
  { min: -1, max: 1, ticks: [-1, -0.5, 0, 0.5, 1] },
];
const timeY = [
  { min: -4, max: 4, ticks: [-4, -2, 0, 2, 4] },
  { min: -2.5, max: 2.5, ticks: [-2, -1, 0, 1, 2] },
  { min: -1, max: 1, ticks: [-0.8, -0.4, 0, 0.4, 0.8] },
];
const timeX = [
  { min: 0, max: 3.74, ticks: [0, 1, 2, 3] },
  { min: 0, max: 2.8, ticks: [0, 1, 2] },
  { min: 0, max: 1.81, ticks: [0, 0.4, 0.8, 1.2, 1.6] },
];

// layout
const LCOL = [82, 287, 497];
const RCOL = [794, 999, 1208];
const ROWS = [561, 765, 969];
const PW = 185, PH = 180;
const A_BOX = { left: 695, top: 36, width: 352, height: 364 };
const IN_BOX = { left: 309, top: 165, width: 246, height: 257 };

export default function App() {
  const ref = useRef<HTMLDivElement>(null);
  useEffect(() => {
    if (!ref.current) return;
    const chart = echarts.init(ref.current, null, { renderer: "svg" });
    const grid: any[] = [], xAxis: any[] = [], yAxis: any[] = [], series: any[] = [], graphic: any[] = [];

    const mkAxis = (gi: number, r: any, showLab: boolean, tick: boolean) => ({
      type: "value", gridIndex: gi, min: r.min, max: r.max,
      axisLine: { show: false }, splitLine: { show: false },
      axisTick: { show: tick, inside: true, length: 4, customValues: r.ticks, lineStyle: { color: "#555" } },
      axisLabel: { show: showLab, customValues: r.ticks, fontFamily: FONT, fontSize: 14, color: "#111", margin: 5 },
    });
    const addGrid = (b: any, xr: any, yr: any, xl: boolean, yl: boolean, tick = true) => {
      const gi = grid.length;
      grid.push({ left: b.left, top: b.top, width: b.width, height: b.height, show: true, borderColor: "#a3a3a3", borderWidth: 1, backgroundColor: "transparent" });
      xAxis.push(mkAxis(gi, xr, xl, tick));
      yAxis.push(mkAxis(gi, yr, yl, tick));
      return gi;
    };
    const addLine = (gi: number, data: any, color: string, dash: any, width: number, z: number) =>
      series.push({
        type: "line", xAxisIndex: gi, yAxisIndex: gi, data, symbol: "none", showSymbol: false, silent: true,
        lineStyle: { color, width, type: dash, join: "round" }, z, clip: true, emphasis: { disabled: true },
      });
    const addDeco = (gi: number, pt: number[], lines: any[], areas: any[]) =>
      series.push({
        type: "line", xAxisIndex: gi, yAxisIndex: gi, data: [pt], symbol: "none", showSymbol: false, silent: true,
        lineStyle: { opacity: 0 }, z: 1,
        markLine: { silent: true, symbol: ["none", "none"], label: { show: false }, emphasis: { disabled: true }, data: lines },
        markArea: { silent: true, label: { show: false }, emphasis: { disabled: true }, data: areas },
      });

    const T = (x: number, y: number, text: string, o: any = {}) => ({
      type: "text", x, y, silent: true, z: 120,
      style: {
        text, fontFamily: FONT, fontSize: o.size || 17, fontStyle: o.italic ? "italic" : "normal",
        fontWeight: o.bold ? "bold" : "normal", fill: o.color || "#000",
        align: o.align || "center", verticalAlign: o.va || "middle",
        textAlign: o.align || "center", textVerticalAlign: o.va || "middle",
      },
    });
    const L = (x1: number, y1: number, x2: number, y2: number, stroke: string, w = 1, dash: any = null, z = 110) => ({
      type: "line", silent: true, z, shape: { x1, y1, x2, y2 }, style: { stroke, lineWidth: w, lineDash: dash },
    });

    // ---------- (a) main ----------
    const ga = addGrid(A_BOX, { min: 0, max: 5, ticks: aTicksX }, { min: 0, max: 2.5, ticks: aTicksY }, true, true);
    const freqDash = [[6, 4], [2, 2], [9, 3, 2, 3]];
    addDeco(ga, [0, 0],
      [
        ...selFreqs.map((f, i) => ({ xAxis: f, lineStyle: { color: "#111", width: 1.5, type: freqDash[i] } })),
        [{ coord: jumpUp[0], symbol: "none", lineStyle: { color: BLUE, width: 1, type: "solid" } }, { coord: jumpUp[1], symbol: "arrow", symbolSize: 7 }],
        [{ coord: jumpDown[0], symbol: "none", lineStyle: { color: RED, width: 1, type: "solid" } }, { coord: jumpDown[1], symbol: "arrow", symbolSize: 7 }],
      ],
      stageBands.map((b, i) => [{ xAxis: b[0], itemStyle: { color: stageFill[i] } }, { xAxis: b[1] }]));
    const pushEta = (gi: number, data: any, color: string, dashed: boolean, size: number, z: number) =>
      series.push({
        type: "line", xAxisIndex: gi, yAxisIndex: gi, data, symbol: "circle", symbolSize: size, showSymbol: true, silent: true,
        itemStyle: { color }, lineStyle: { color, width: 1, type: dashed ? [4, 3] : "solid" }, z, clip: true, emphasis: { disabled: true },
      });
    pushEta(ga, etaFwdRise, RED, false, 6, 3);
    pushEta(ga, etaFwdLow, RED, false, 6, 3);
    pushEta(ga, etaBwdHigh, BLUE, true, 6, 4);
    pushEta(ga, etaBwdLow, BLUE, true, 6, 4);

    // ---------- inset ----------
    const gin = addGrid(IN_BOX, { min: insetX[0], max: insetX[1] }, { min: insetY[0], max: insetY[1] }, false, false, false);
    addDeco(gin, [insetX[0], insetY[0]],
      selFreqs.map((f, i) => ({ xAxis: f, lineStyle: { color: "#111", width: 1.5, type: freqDash[i] } })),
      stageBands.map((b, i) => [{ xAxis: Math.max(b[0], insetX[0]), itemStyle: { color: stageFill[i] } }, { xAxis: Math.min(b[1], insetX[1]) }]).filter((p: any) => p[0].xAxis < p[1].xAxis));
    pushEta(gin, etaFwdRise, RED, false, 14, 3);
    pushEta(gin, etaBwdHigh, BLUE, true, 14, 4);

    // ---------- phase panels ----------
    const phasePanels = [
      { tag: "(b)", r: 0, c: 0, f: [phB_f], b: [phB_b] },
      { tag: "(c)", r: 0, c: 1, f: [phC_f], b: [phC_b] },
      { tag: "(d)", r: 0, c: 2, f: [phD_f], b: [phD_b] },
      { tag: "(e)", r: 1, c: 0, f: [phE_f], b: [phE_b] },
      { tag: "(f)", r: 1, c: 1, f: [phF_f], b: [phF_b] },
      { tag: "(g)", r: 1, c: 2, f: [phG_f], b: [phG_b] },
      { tag: "(h)", r: 2, c: 0, f: [phH_fL, phH_fR], b: [phH_bL, phH_bR] },
      { tag: "(i)", r: 2, c: 1, f: [phI_fL, phI_fR], b: [phI_bL, phI_bR] },
      { tag: "(j)", r: 2, c: 2, f: [phJ_fL, phJ_fR], b: [phJ_bL, phJ_bR] },
    ];
    const miniLegend = (x: number, y: number, w: number, h: number) => {
      graphic.push({ type: "rect", silent: true, z: 115, shape: { x, y, width: w, height: h }, style: { fill: "#fff", stroke: "#a0a0a0", lineWidth: 1 } });
      graphic.push(L(x + 2, y + h * 0.32, x + w * 0.46, y + h * 0.32, RED, 2.6, null, 116));
      graphic.push(L(x + 2, y + h * 0.72, x + w * 0.46, y + h * 0.72, BLUE, 2.6, [2.5, 2], 116));
      graphic.push(T(x + w * 0.47, y + h * 0.32, "(f)", { size: 9.5, align: "left" }));
      graphic.push(T(x + w * 0.47, y + h * 0.72, "(b)", { size: 9.5, align: "left" }));
    };
    phasePanels.forEach((p) => {
      const box = { left: LCOL[p.c], top: ROWS[p.r], width: PW, height: PH };
      const yr = phaseY[p.r];
      const gi = addGrid(box, phaseX, yr, p.r === 2, p.c === 0);
      addDeco(gi, [phaseX.min, yr.min], [
        { yAxis: 0, lineStyle: { color: "#b0b0b0", width: 1, type: "solid" } },
        { xAxis: 0, lineStyle: { color: "#b0b0b0", width: 1, type: "solid" } },
        ...gapPhase[p.c].map((v) => ({ xAxis: v, lineStyle: { color: "#111", width: 1.5, type: [6, 4] } })),
      ], []);
      p.f.forEach((d) => addLine(gi, d, RED, "solid", 3.2, 3));
      p.b.forEach((d) => addLine(gi, d, BLUE, [2.5, 2], 3, 4));
      graphic.push(T(box.left + 8, box.top + 18, p.tag, { bold: true, align: "left" }));
      miniLegend(box.left + PW - 47, box.top + PH - 39, 44, 31);
    });

    // ---------- time panels ----------
    const timePanels = [
      { tag: "(k)", r: 0, c: 0, f: uF1_f, b: uF1_b, up: bandsF1A, dn: bandsF1B },
      { tag: "(l)", r: 0, c: 1, f: uF2_f, b: uF2_b, up: bandsF2A, dn: bandsF2B },
      { tag: "(m)", r: 0, c: 2, f: uF3_f, b: uF3_b, up: bandsF3A, dn: bandsF3B },
      { tag: "(n)", r: 1, c: 0, f: aF1_f, b: aF1_b, up: bandsF1B, dn: bandsF1A },
      { tag: "(o)", r: 1, c: 1, f: aF2_f, b: aF2_b, up: bandsF2B, dn: bandsF2A },
      { tag: "(p)", r: 1, c: 2, f: aF3_f, b: aF3_b, up: bandsF3B, dn: bandsF3A },
      { tag: "(q)", r: 2, c: 0, f: fjF1_f, b: fjF1_b, up: bandsF1A, dn: bandsF1B },
      { tag: "(r)", r: 2, c: 1, f: fjF2_f, b: fjF2_b, up: bandsF2A, dn: bandsF2B },
      { tag: "(s)", r: 2, c: 2, f: fjF3_f, b: fjF3_b, up: bandsF3A, dn: bandsF3B },
    ];
    const PINK = "rgba(250,160,170,0.38)";
    timePanels.forEach((p) => {
      const box = { left: RCOL[p.c], top: ROWS[p.r], width: PW, height: PH };
      const yr = timeY[p.r], xr = timeX[p.c];
      const gi = addGrid(box, xr, yr, p.r === 2, p.c === 0);
      const lines: any[] = [{ yAxis: 0, lineStyle: { color: "#b0b0b0", width: 1, type: "solid" } }];
      if (p.r === 0) gapTime[p.c].forEach((v) => lines.push({ yAxis: v, lineStyle: { color: "#111", width: 1.5, type: [6, 4] } }));
      const areas = [
        ...p.up.map((b) => [{ xAxis: b[0], yAxis: 0, itemStyle: { color: PINK } }, { xAxis: b[1], yAxis: yr.max }]),
        ...p.dn.map((b) => [{ xAxis: b[0], yAxis: yr.min, itemStyle: { color: PINK } }, { xAxis: b[1], yAxis: 0 }]),
      ];
      addDeco(gi, [xr.min, yr.min], lines, areas);
      addLine(gi, p.f, RED, "solid", 2.4, 3);
      addLine(gi, p.b, BLUE, [2.5, 2], 2.4, 4);
      graphic.push(T(box.left + 8, box.top + 20, p.tag, { bold: true, align: "left" }));
      if (p.r === 1) miniLegend(box.left + PW - 49, box.top + 3, 46, 33);
      else miniLegend(box.left + PW - 51, box.top + PH - 42, 48, 36);
    });

    // ---------- decorations for (a) ----------
    const XA = (f: number) => A_BOX.left + (f / 5) * A_BOX.width;
    const YA = (e: number) => A_BOX.top + A_BOX.height - (e / 2.5) * A_BOX.height;
    const XI = (f: number) => IN_BOX.left + ((f - insetX[0]) / (insetX[1] - insetX[0])) * IN_BOX.width;
    const bx1 = XA(insetX[0]), bx2 = XA(insetX[1]), by1 = YA(insetY[1]), by2 = YA(insetY[0]);
    const iR = IN_BOX.left + IN_BOX.width, iT = IN_BOX.top, iB = IN_BOX.top + IN_BOX.height;
    graphic.push({
      type: "polygon", silent: true, z: 60,
      shape: { points: [[iR, iT], [bx2, by1], [bx1, by1], [bx1, by2], [bx2, by2], [iR, iB]] },
      style: { fill: "rgba(150,150,150,0.2)" },
    });
    graphic.push(L(iR, iT, bx2, by1, "#9a9a9a", 1, null, 61));
    graphic.push(L(iR, iB, bx2, by2, "#9a9a9a", 1, null, 61));
    graphic.push({ type: "rect", silent: true, z: 61, shape: { x: bx1, y: by1, width: bx2 - bx1, height: by2 - by1 }, style: { fill: "none", stroke: "#9a9a9a", lineWidth: 1 } });

    // stage brackets
    stageBands.forEach((b, i) => {
      const x1 = XA(b[0]), x2 = XA(b[1]);
      graphic.push(L(x1, 25, x2, 25, stageInk[i], 2));
      graphic.push(L(x1, 24, x1, 32, stageInk[i], 2));
      graphic.push(L(x2, 24, x2, 32, stageInk[i], 2));
      graphic.push(T((x1 + x2) / 2, 12, stageNames[i], { size: 19, color: stageInk[i] }));
    });
    graphic.push(T(633, 58, "(a)", { bold: true, align: "left" }));
    graphic.push(T(652, 220, "η", { italic: true, size: 19, align: "left" }));
    graphic.push(T(662, 225, "a", { size: 12, align: "left" }));
    graphic.push(T(847, 432, "f", { italic: true, size: 18, align: "left" }));
    graphic.push(T(856, 432, "[Hz]", { size: 17, align: "left" }));
    // legend (a)
    graphic.push({ type: "rect", silent: true, z: 115, shape: { x: 960, y: 40, width: 83, height: 57 }, style: { fill: "#fff", stroke: "#9a9a9a", lineWidth: 1 } });
    graphic.push(L(966, 57, 1004, 57, RED, 1, null, 116));
    graphic.push({ type: "circle", silent: true, z: 117, shape: { cx: 985, cy: 57, r: 3.6 }, style: { fill: RED } });
    graphic.push(L(966, 80, 1004, 80, BLUE, 1, [4, 3], 116));
    graphic.push({ type: "circle", silent: true, z: 117, shape: { cx: 985, cy: 80, r: 3.6 }, style: { fill: BLUE } });
    graphic.push(T(1012, 57, "(f)", { size: 18, align: "left" }));
    graphic.push(T(1012, 80, "(b)", { size: 18, align: "left" }));

    // frequency markers (circles)
    const fCircle = (cx: number, cy: number, k: number, rx: number, ry: number) => {
      graphic.push({ type: "ellipse", silent: true, z: 118, shape: { cx, cy, rx, ry }, style: { fill: "#fff", stroke: "#000", lineWidth: 1.3 } });
      graphic.push(T(cx - 1.5, cy - 1, "f", { italic: true, size: 16, align: "right" }));
      graphic.push(T(cx - 1.5, cy + 4, String(k), { size: 10, align: "left" }));
    };
    [[352, 142], [385, 142], [455, 142]].forEach((p, i) => fCircle(p[0], p[1], i + 1, 14, 14));
    [[177, 521], [380, 521], [591, 521]].forEach((p, i) => fCircle(p[0], p[1], i + 1, 12.5, 13.5));
    [[899, 524], [1104, 525], [1315, 525]].forEach((p, i) => fCircle(p[0], p[1], i + 1, 12.5, 13.5));

    // connectors from inset to the time/phase columns
    const conn = [
      { x: XI(selFreqs[0]), y: 491, left: 177, right: 899, dash: [6, 4] },
      { x: XI(selFreqs[1]), y: 473, left: 380, right: 1104, dash: [2, 2] },
      { x: XI(selFreqs[2]), y: 457, left: 591, right: 1315, dash: [9, 3, 2, 3] },
    ];
    conn.forEach((c, i) => {
      graphic.push(L(c.x, iB, c.x, c.y, "#111", 1.3, c.dash));
      const hx1 = i === 2 ? c.x : c.left;
      graphic.push(L(hx1, c.y, c.right, c.y, "#111", 1.3, c.dash));
      graphic.push(L(c.left, c.y, c.left, 507, "#111", 1.3, c.dash));
      graphic.push(L(c.right, c.y, c.right, 510, "#111", 1.3, c.dash));
    });

    // axis names
    graphic.push(T(36, 637, "u\u0307", { italic: true, size: 19 }));
    graphic.push(T(32, 658, "[mm/s]", { size: 17 }));
    graphic.push(T(30, 842, "F", { italic: true, size: 19 }));
    graphic.push(T(37, 846, "I", { size: 12, align: "left" }));
    graphic.push(T(34, 862, "[kN]", { size: 17 }));
    graphic.push(T(30, 1042, "F", { italic: true, size: 19 }));
    graphic.push(T(37, 1046, "j", { italic: true, size: 12, align: "left" }));
    graphic.push(T(34, 1062, "[kN]", { size: 17 }));
    graphic.push(T(755, 638, "u", { italic: true, size: 19 }));
    graphic.push(T(755, 659, "[mm]", { size: 17 }));
    graphic.push(T(755, 841, "a", { italic: true, size: 19 }));
    graphic.push(T(755, 862, "[m/s\u00b2]", { size: 17 }));
    graphic.push(T(749, 1044, "F", { italic: true, size: 19 }));
    graphic.push(T(756, 1048, "j", { italic: true, size: 12, align: "left" }));
    graphic.push(T(752, 1065, "[kN]", { size: 17 }));
    LCOL.forEach((lx) => {
      const cx = lx + PW / 2;
      graphic.push(T(cx - 37, 1181, "u,", { italic: true, size: 17, align: "left" }));
      graphic.push(T(cx - 19, 1181, "v", { italic: true, size: 17, align: "left" }));
      graphic.push(T(cx - 11, 1186, "j", { italic: true, size: 12, align: "left" }));
      graphic.push(T(cx - 4, 1181, "[mm]", { size: 17, align: "left" }));
    });
    RCOL.forEach((rx) => {
      const cx = rx + PW / 2;
      graphic.push(T(cx - 12, 1180, "t", { italic: true, size: 17, align: "left" }));
      graphic.push(T(cx - 4, 1180, "[s]", { size: 17, align: "left" }));
    });

    chart.setOption({ animation: false, textStyle: { fontFamily: FONT }, grid, xAxis, yAxis, series, graphic });
    return () => chart.dispose();
  }, []);
  return <div ref={ref} style={{ position: "absolute", left: 0, top: 0, width: 1413, height: 1195, background: "#fff" }} />;
}
